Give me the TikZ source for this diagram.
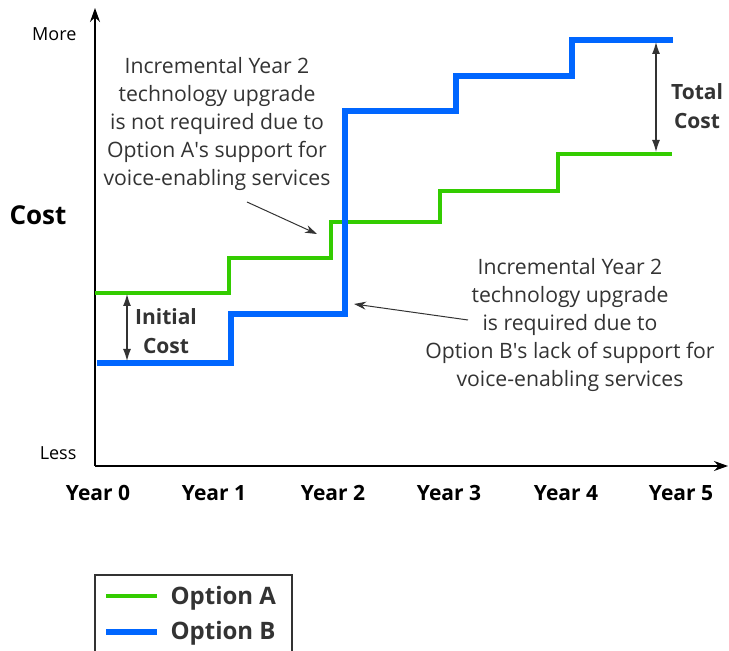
\documentclass[tikz,border=0pt]{standalone}
\usepackage{fontspec}
\setmainfont{Open Sans}
\usetikzlibrary{arrows.meta}
\definecolor{optgreen}{HTML}{33CC00}
\definecolor{optblue}{HTML}{0066FF}
\definecolor{notegray}{HTML}{333333}
\tikzset{every picture/.style={line width=0.6pt}}
\tikzset{
  optA/.style={draw=optgreen, line width=2pt},
  optB/.style={draw=optblue, line width=3pt},
  costaxis/.style={-{Stealth[length=7pt, width=5pt]}},
  span/.style={{Latex[length=6pt, width=4pt]}-{Latex[length=6pt, width=4pt]}, draw=notegray},
  noteline/.style={-{Stealth[length=6pt, width=4pt]}, draw=notegray, line width=0.5pt},
  note/.style={align=center, text=notegray, inner sep=0pt, font=\fontsize{10.6}{13.9}\selectfont},
  yearlbl/.style={font=\fontsize{10.5}{12}\selectfont\bfseries, inner sep=0pt},
  boldlbl/.style={align=center, inner sep=0pt, font=\fontsize{10.5}{14.5}\selectfont\bfseries, text=notegray},
  endlbl/.style={font=\fontsize{9}{11}\selectfont, inner sep=0pt, anchor=east},
  legtxt/.style={font=\fontsize{12}{14}\selectfont\bfseries, anchor=west, inner sep=0pt, text=notegray}
}

\begin{document}
\begin{tikzpicture}[x=0.5pt, y=-0.5pt]
      \useasboundingbox (0,0) rectangle (729,651);
      % axes
      \coordinate (O)    at (95,466);
      \coordinate (ytip) at (95,8);
      \coordinate (xtip) at (728,466);
      \draw[costaxis] (O) -- (ytip);
      \draw[costaxis] (O) -- (xtip);
      \node[endlbl] (more) at (77,34)  {More};
      \node[endlbl] (less) at (77,453) {Less};
      \node[font=\fontsize{13}{15}\selectfont\bfseries, inner sep=0pt] (cost) at (38,215) {Cost};
      \foreach \x/\n in {98/0, 214/1, 333/2, 449/3, 566/4, 681/5}
        \node[yearlbl] (yr\n) at (\x,493) {Year \n};
      % option A and option B
      \draw[optA] (95,293) -- (229,293) -- (229,258) -- (331,258) -- (331,222)
        -- (440,222) -- (440,191) -- (558,191) -- (558,154) -- (672,154);
      \draw[optB] (97,363) -- (231,363) -- (231,314) -- (345,314) -- (345,111)
        -- (456,111) -- (456,76) -- (572,76) -- (572,40) -- (673,40);
      % initial and total cost
      \coordinate (ic1) at (127,294);
      \coordinate (ic2) at (127,361);
      \draw[span] (ic1) -- (ic2);
      \node[boldlbl] (initial) at (166,331) {Initial\\Cost};
      \coordinate (tc1) at (656,42);
      \coordinate (tc2) at (656,152);
      \draw[span] (tc1) -- (tc2);
      \node[boldlbl] (total) at (697,106) {Total\\Cost};
      % notes
      \node[note] (noteA) at (217,124) {Incremental Year 2\\technology upgrade\\is not required due to\\Option A\textquotesingle s support for\\voice-enabling services};
      \coordinate (na1) at (247,202);
      \coordinate (na2) at (317,234);
      \draw[noteline] (na1) -- (na2);
      \node[note] (noteB) at (570,325) {Incremental Year 2\\technology upgrade\\is required due to\\Option B\textquotesingle s lack of support for\\voice-enabling services};
      \coordinate (nb1) at (468,320);
      \coordinate (nb2) at (354,304);
      \draw[noteline] (nb1) -- (nb2);
      % legend
      \draw[draw=notegray] (95,651) -- (95,575) -- (292,575) -- (292,651);
      \coordinate (la1) at (106,596);
      \coordinate (la2) at (157,596);
      \coordinate (lb1) at (106,632);
      \coordinate (lb2) at (157,632);
      \draw[optA] (la1) -- (la2);
      \draw[optB] (lb1) -- (lb2);
      \node[legtxt] (legA) at (170,598) {Option A};
      \node[legtxt] (legB) at (170,633) {Option B};
\end{tikzpicture}
\end{document}
